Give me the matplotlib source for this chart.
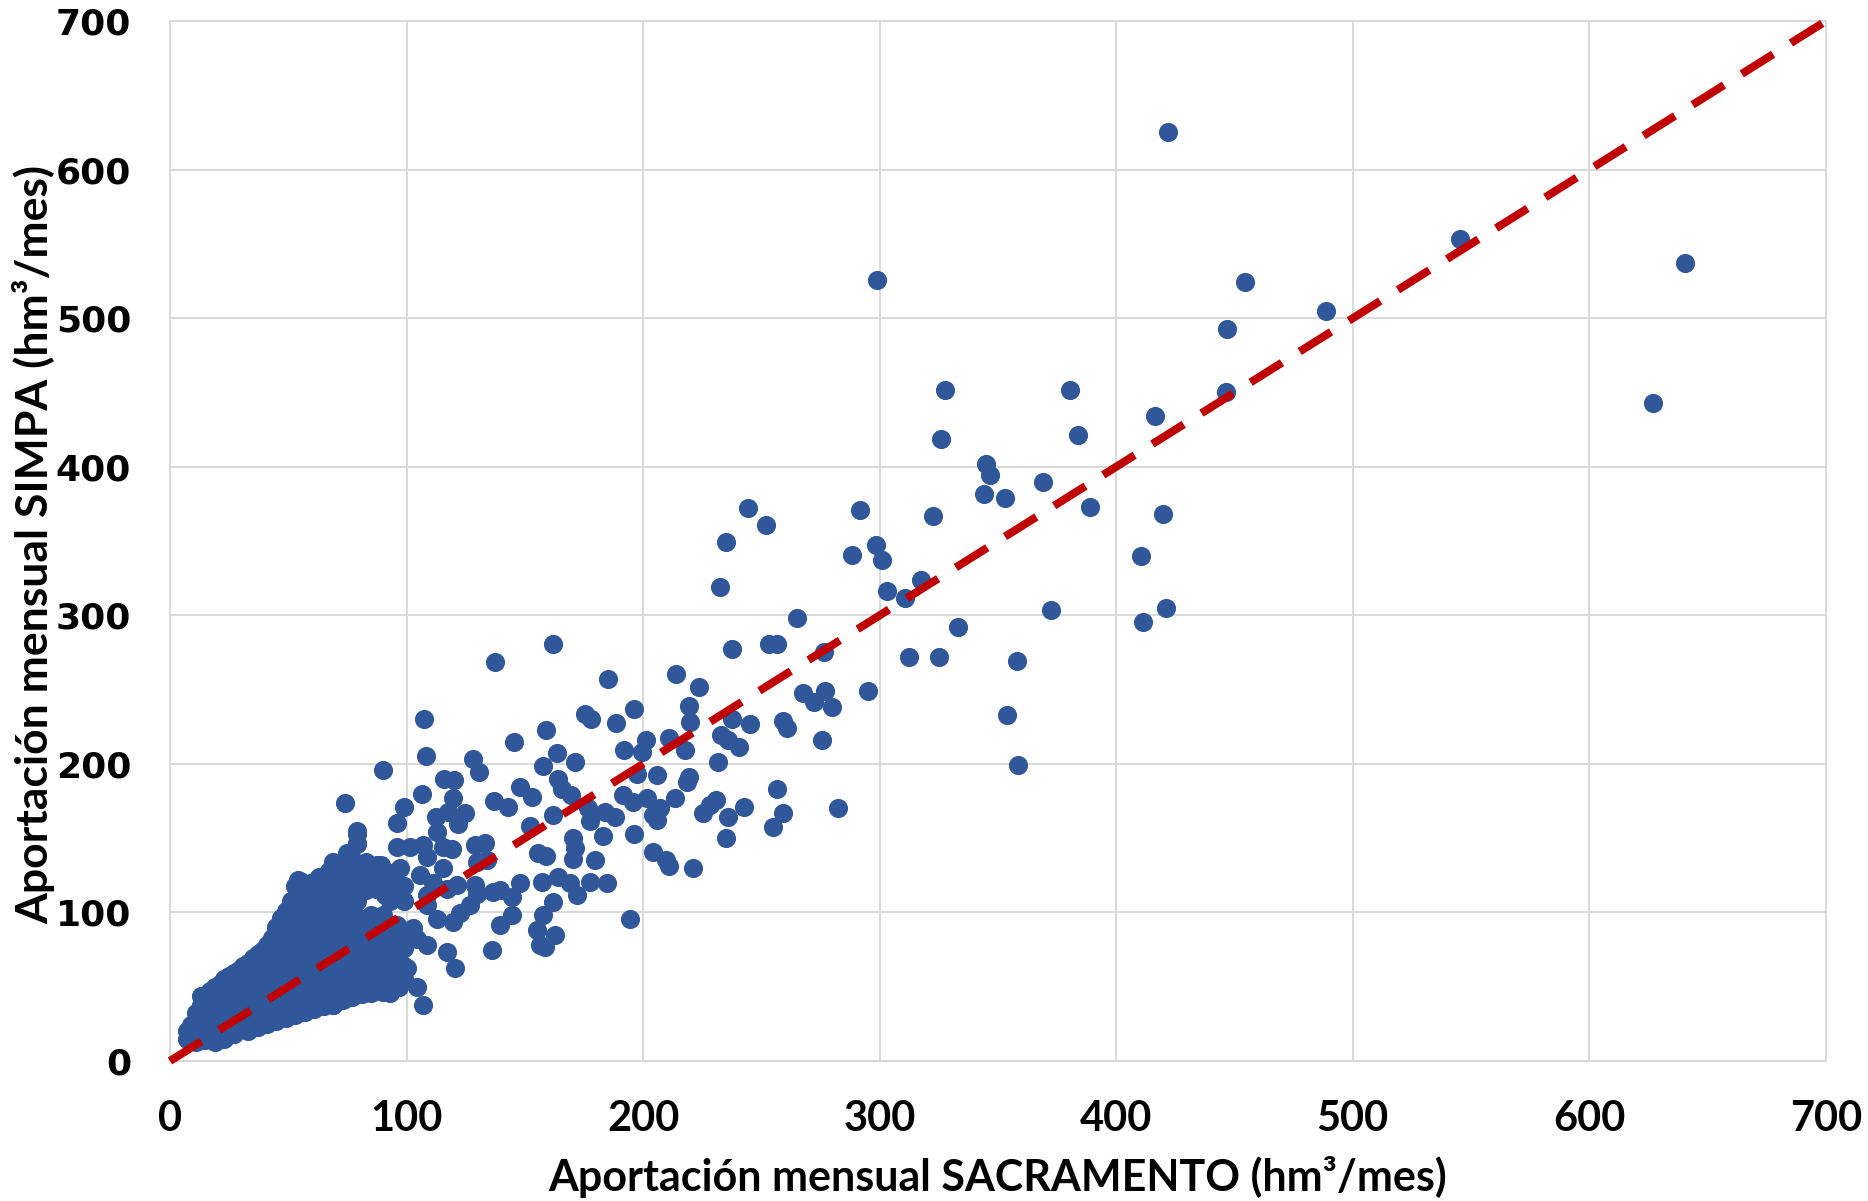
import matplotlib
matplotlib.use("Agg")
from matplotlib import pyplot as plt

# monthly inflow (hm3/month): SACRAMENTO model (x) vs SIMPA model (y)
pts_high = [(422, 625), (454.6, 524.5), (488.6, 504.6), (446.9, 492.8), (446.2, 450.5),
            (416.2, 434.3), (327.5, 451.5), (380.6, 451.5), (325.8, 418.8), (384, 421.4),
            (344.9, 401.5), (346.6, 394.3), (344, 381.4), (353.1, 378.9), (369, 389.7),
            (322.4, 366.8), (388.9, 373.2), (419.6, 368.1), (410.5, 340.2), (317.5, 323.5),
            (310.7, 311.9), (333.2, 291.8), (372.3, 303.6), (421.2, 304.9), (411.3, 295.6),
            (312.5, 271.6), (324.9, 271.6), (358.2, 269.1), (354, 233), (358.6, 199),
            (545.3, 553.4), (640.2, 537.3), (627, 442.8), (299, 526)]

# middle range, x 130-300
pts_mid = [(244.3, 371.9), (251.8, 361), (291.7, 370.7), (235.2, 349.5), (288.3, 340.5),
           (298.4, 347), (300.8, 337), (232.6, 319), (303.2, 316.5), (265.2, 298.3),
           (162, 281), (237.7, 277), (253.3, 280.5), (256.4, 280.5), (276.5, 275.4),
           (137.2, 268.5), (185.3, 256.8), (213.8, 260.8), (223.6, 252), (294.9, 249),
           (267.4, 247.6), (276.9, 249), (272.2, 241.3), (280, 238.4), (219.5, 239),
           (196.1, 236.8), (175.5, 233.5), (178, 230.5), (188.5, 227.8), (219.9, 228.3),
           (237.7, 230.5), (245.2, 226.7), (259.3, 228.7), (260.7, 223.8), (158.8, 222.6),
           (145.4, 214.8), (211.1, 217.5), (201.1, 216), (233.1, 219.3), (235.7, 216),
           (240.6, 211.5), (275.7, 216), (192, 209.2), (217.7, 209.2), (199.4, 208.1),
           (163.7, 207), (171.2, 201.4), (157.8, 198.4), (231.8, 201.4), (219.4, 191.3),
           (218.4, 188), (164.1, 190), (165.6, 183.4), (169.5, 179), (147.9, 184.5),
           (152.9, 177.8), (197.3, 193.5), (205.7, 192.8), (256.4, 183), (191.6, 179),
           (195.8, 174.4), (201.5, 176.7), (213.5, 176.7), (143, 171), (176.8, 170.4),
           (183.9, 167.7), (188.1, 164.4), (207.1, 170.4), (204.3, 165.4), (205.7, 162),
           (231, 175.5), (228.3, 172.2), (225.4, 166.6), (236, 164.4), (242.8, 171),
           (259.3, 166.6), (255, 157.6), (282.5, 170), (162, 165.4), (152.2, 158.3),
           (177.5, 161.4), (170.5, 150), (182.9, 151.3), (196.1, 153), (235, 149.8)]

# lower range, x 55-225
pts_low = [(107.4, 230.5), (108.1, 205), (89.9, 195.7), (128.1, 203), (130.6, 194.8),
           (204.3, 141), (209.5, 135.5), (211, 131), (221.2, 130), (115.8, 190),
           (120, 189), (106.4, 180), (119.8, 177.3), (98.9, 171), (74, 173.8),
           (137, 175), (95.8, 160.3), (112.4, 164.4), (117.6, 167.7), (124.6, 167),
           (121.9, 159.8), (112.7, 154.3), (78.9, 154.9), (95.8, 144.2), (101.4, 144.2),
           (107.1, 145.2), (108.5, 137.4), (115.5, 144.2), (119.1, 143), (115.5, 129.6),
           (128.9, 145.2), (133.2, 146.4), (133.9, 135.2), (129.6, 134.1), (155.5, 140),
           (159, 138), (171, 143.5), (170.5, 136), (179.6, 135.2), (147.9, 119.5),
           (157.1, 120.6), (164.1, 124), (169.1, 119.5), (177.5, 120.6), (184.6, 119.5),
           (136.7, 113.9), (128.9, 118.3), (121.2, 118.3), (111.3, 119.5), (105.7, 125.1),
           (97.2, 129.6), (87.4, 131.8), (78.2, 125.1), (69, 134.1), (60.6, 120.6),
           (171.9, 111.6), (162, 107.1), (157.8, 98.1), (162.7, 84.7), (158.5, 76.9),
           (194.4, 95.5), (78.9, 146.4), (54.2, 121.7), (144.4, 110.5), (139.5, 115),
           (129.6, 112.7), (117, 116.1), (108.5, 111.6), (126.8, 104.9), (122.6, 99.3),
           (119.8, 93.7), (112.7, 95.9), (108.5, 104.9), (102.8, 89.2), (104.3, 82.4),
           (108.5, 77.9), (98.6, 84.7), (95.8, 91.4), (90.1, 98.1), (139.5, 91.4),
           (144.4, 98.1), (155, 88), (156.4, 77.9), (135.9, 74.6), (117, 73.5),
           (120.5, 62.3), (107.1, 37.5), (104.3, 49.9), (100, 62.3), (90.1, 46.6),
           (93, 55.5), (87.4, 57.7), (78.9, 46.6), (69, 37.5), (93, 71.2), (83.1, 69)]

# dense cluster near the origin
pts_core = [(7, 15), (7, 20), (9, 14), (9, 19), (9, 24), (11, 13), (11, 18), (11, 25), (11, 32),
            (13, 15), (13, 22), (13, 30), (13, 38), (13, 44), (15, 14), (15, 20), (15, 27), (15, 35),
            (15, 42), (17, 16), (17, 24), (17, 31), (17, 39), (17, 47), (19, 13), (19, 19), (19, 28),
            (19, 36), (19, 44), (19, 50), (21, 17), (21, 23), (21, 33), (21, 41), (21, 52),
            (23, 15), (23, 21), (23, 29), (23, 38), (23, 46), (23, 55), (25, 19), (25, 26), (25, 34),
            (25, 43), (25, 50), (25, 57), (27, 18), (27, 24), (27, 31), (27, 40), (27, 48), (27, 59),
            (29, 21), (29, 28), (29, 37), (29, 45), (29, 53), (29, 61), (31, 22), (31, 30), (31, 39),
            (31, 48), (31, 56), (31, 64), (33, 20), (33, 26), (33, 34), (33, 43), (33, 52), (33, 60),
            (33, 66), (35, 24), (35, 31), (35, 38), (35, 47), (35, 55), (35, 63), (35, 69),
            (37, 23), (37, 29), (37, 36), (37, 44), (37, 51), (37, 59), (37, 67), (37, 72),
            (39, 26), (39, 33), (39, 41), (39, 49), (39, 57), (39, 64), (39, 74),
            (41, 25), (41, 30), (41, 38), (41, 46), (41, 54), (41, 61), (41, 70), (41, 78),
            (43, 28), (43, 35), (43, 43), (43, 51), (43, 59), (43, 67), (43, 75), (43, 83),
            (45, 27), (45, 33), (45, 40), (45, 48), (45, 56), (45, 64), (45, 72), (45, 80), (45, 90),
            (47, 30), (47, 37), (47, 45), (47, 53), (47, 61), (47, 69), (47, 77), (47, 86), (47, 96),
            (49, 29), (49, 34), (49, 42), (49, 50), (49, 58), (49, 66), (49, 74), (49, 82), (49, 92),
            (49, 101), (51, 32), (51, 39), (51, 47), (51, 55), (51, 63), (51, 71), (51, 79), (51, 88),
            (51, 97), (51, 108), (53, 31), (53, 36), (53, 44), (53, 52), (53, 60), (53, 68), (53, 76),
            (53, 85), (53, 94), (53, 103), (53, 118), (55, 34), (55, 41), (55, 49), (55, 57), (55, 65),
            (55, 73), (55, 81), (55, 90), (55, 99), (55, 110), (55, 121), (57, 33), (57, 38), (57, 46),
            (57, 54), (57, 62), (57, 70), (57, 78), (57, 87), (57, 96), (57, 106), (59, 36), (59, 43),
            (59, 51), (59, 59), (59, 67), (59, 75), (59, 84), (59, 93), (59, 102), (59, 113),
            (61, 35), (61, 40), (61, 48), (61, 56), (61, 64), (61, 72), (61, 80), (61, 89), (61, 98),
            (61, 108), (61, 119), (63, 38), (63, 45), (63, 53), (63, 61), (63, 69), (63, 77), (63, 86),
            (63, 95), (63, 104), (63, 115), (63, 124), (65, 37), (65, 42), (65, 50), (65, 58), (65, 66),
            (65, 74), (65, 83), (65, 92), (65, 101), (65, 111), (67, 40), (67, 47), (67, 55), (67, 63),
            (67, 71), (67, 79), (67, 88), (67, 97), (67, 106), (67, 117), (67, 128), (69, 38), (69, 44),
            (69, 52), (69, 60), (69, 68), (69, 76), (69, 85), (69, 94), (69, 103), (69, 113), (69, 125),
            (69, 133), (71, 42), (71, 49), (71, 57), (71, 65), (71, 73), (71, 82), (71, 91), (71, 100),
            (71, 110), (71, 121), (73, 41), (73, 46), (73, 54), (73, 62), (73, 70), (73, 79), (73, 88),
            (73, 97), (73, 107), (73, 118), (73, 130), (75, 44), (75, 51), (75, 59), (75, 67), (75, 76),
            (75, 85), (75, 94), (75, 103), (75, 114), (75, 126), (75, 140), (77, 43), (77, 48), (77, 56),
            (77, 64), (77, 73), (77, 82), (77, 91), (77, 100), (77, 112), (77, 123), (77, 136),
            (79, 46), (79, 53), (79, 61), (79, 70), (79, 79), (79, 88), (79, 97), (79, 108), (79, 118),
            (79, 131), (79, 146), (79, 153), (81, 45), (81, 50), (81, 58), (81, 67), (81, 76), (81, 85),
            (81, 95), (81, 116), (81, 128), (83, 47), (83, 55), (83, 63), (83, 72), (83, 82), (83, 92),
            (83, 115), (83, 124), (83, 134), (85, 46), (85, 52), (85, 60), (85, 69), (85, 78), (85, 88),
            (85, 98), (85, 120), (85, 130), (87, 48), (87, 57), (87, 65), (87, 74), (87, 84), (87, 94),
            (87, 116), (87, 126), (89, 47), (89, 54), (89, 62), (89, 71), (89, 81), (89, 90), (89, 122),
            (89, 132), (91, 50), (91, 59), (91, 68), (91, 78), (91, 88), (91, 112), (91, 124),
            (93, 46), (93, 56), (93, 64), (93, 75), (93, 86), (93, 108), (93, 119), (95, 52), (95, 61),
            (95, 72), (95, 84), (95, 117), (95, 127), (97, 50), (97, 58), (97, 68), (97, 80),
            (99, 55), (99, 64), (99, 76), (99, 86), (99, 108), (99, 118)]

all_pts = pts_core + pts_low + pts_mid + pts_high
sacramento = [p[0] for p in all_pts]
simpa = [p[1] for p in all_pts]

ticks = [0, 100, 200, 300, 400, 500, 600, 700]
label_font = ['Lato', 'DejaVu Sans']

fig = plt.figure(figsize=(18.68, 12.01), dpi=100)
ax = fig.add_axes([170 / 1868, 1 - 1061 / 1201, 1656 / 1868, 1040 / 1201])

ax.scatter(sacramento, simpa, s=190, color='#30579A', linewidths=0, zorder=3)
ax.plot([0, 700], [0, 700], color='#C00000', lw=5.8, dashes=(4.6, 2.6),
        dash_capstyle='butt', zorder=4, clip_on=False)

ax.set_xlim(0, 700)
ax.set_ylim(0, 700)
ax.set_xticks(ticks)
ax.set_yticks(ticks)
ax.grid(True, color='#D9D9D9', lw=1.4, zorder=0)
for sp in ax.spines.values():
    sp.set_color('#D9D9D9')
    sp.set_linewidth(1.4)
ax.tick_params(length=0)
ax.tick_params(axis='y', pad=28)
ax.tick_params(axis='x', pad=28)
for lab in ax.get_yticklabels():
    lab.set_fontfamily('DejaVu Sans')
    lab.set_fontweight('bold')
    lab.set_fontsize(26)
for lab in ax.get_xticklabels():
    lab.set_fontfamily(label_font)
    lab.set_fontweight('bold')
    lab.set_fontsize(30)

fig.text(998 / 1868, 1 - 1177 / 1201, 'Aportación mensual SACRAMENTO (hm³/mes)',
         ha='center', va='center', fontsize=31, fontweight='bold', family=label_font)
fig.text(34 / 1868, 1 - 544 / 1201, 'Aportación mensual SIMPA (hm³/mes)',
         ha='center', va='center', rotation=90, fontsize=32, fontweight='bold',
         family=label_font)

fig.savefig('out.png', dpi=100)
